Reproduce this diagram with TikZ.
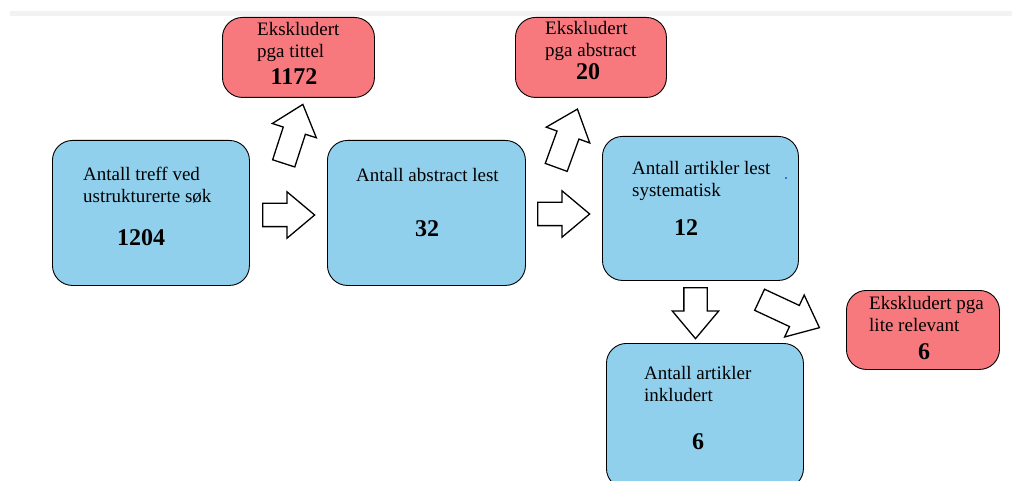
\documentclass[tikz,border=0pt]{standalone}
\usepackage{fontspec}
\setmainfont{Liberation Serif}
\usetikzlibrary{shapes.arrows}

\definecolor{boxblue}{RGB}{145,208,237}
\definecolor{boxred}{RGB}{247,121,126}

\tikzset{
    stepbox/.style={draw=black, line width=0.9pt, rounded corners=20pt,
        anchor=north west, inner sep=0pt},
    bluebox/.style={stepbox, fill=boxblue},
    redbox/.style={stepbox, fill=boxred},
    boxtext/.style={anchor=base west, inner sep=0pt, align=left,
        font=\fontsize{19}{22}\selectfont},
    numtext/.style={inner sep=0pt, font=\fontsize{24}{26}\selectfont\bfseries},
    blockarrow/.style={single arrow, draw=black, fill=white, line width=1.3pt,
        anchor=tail, inner xsep=0pt, inner ysep=11pt,
        single arrow head extend=11.5pt, single arrow head indent=0pt,
        single arrow tip angle=80, minimum height=#1}
}

\begin{document}
\begin{tikzpicture}[x=1pt, y=-1pt]
    \clip (0,0) rectangle (1012,481);
    \useasboundingbox (0,0) rectangle (1012,481);

    % faint page edge at the top
    \fill[black!5] (10,11) rectangle (1012,16);

    % Blue boxes
    \node[bluebox, minimum width=197pt, minimum height=145pt] (treff) at (52,140) {};
    \node[bluebox, minimum width=198pt, minimum height=145pt] (abstract) at (327,140) {};
    \node[bluebox, minimum width=196pt, minimum height=144pt] (lest) at (602,136) {};
    \node[bluebox, minimum width=197pt, minimum height=145pt] (inkl) at (606,343) {};

    % Red boxes
    \node[redbox, minimum width=152pt, minimum height=80pt] (tittel) at (222,17) {};
    \node[redbox, minimum width=151pt, minimum height=80pt] (ekabs) at (515,17) {};
    \node[redbox, minimum width=153pt, minimum height=79pt] (relevant) at (846,290) {};

    % Texts in the blue boxes (base = last line)
    \node[boxtext] (treff-t) at (83,203) {Antall treff ved\\ustrukturerte søk};
    \node[numtext] (treff-n) at (141,238) {1204};
    \node[boxtext] (abstract-t) at (356,182) {Antall abstract lest};
    \node[numtext] (abstract-n) at (427,229) {32};
    \node[boxtext] (lest-t) at (632,197) {Antall artikler lest\\systematisk};
    \node[numtext] (lest-n) at (686,228) {12};
    \node[boxtext] (inkl-t) at (644,401) {Antall artikler\\inkludert};
    \node[numtext] (inkl-n) at (698,442) {6};
    \fill[blue] (786,178) circle (0.8);

    % Texts in the red boxes
    \node[boxtext] (tittel-t) at (257,58) {Ekskludert\\pga tittel};
    \node[numtext] (tittel-n) at (294,77) {1172};
    \node[boxtext] (ekabs-t) at (545,57) {Ekskludert\\pga abstract};
    \node[numtext] (ekabs-n) at (588,72) {20};
    \node[boxtext] (relevant-t) at (869,331) {Ekskludert pga\\lite relevant};
    \node[numtext] (relevant-n) at (924,352) {6};

    % Block arrows
    \node[blockarrow=52pt] (a1) at (262,215) {};
    \node[blockarrow=52pt] (a2) at (537,214) {};
    \node[blockarrow=62pt, rotate=72] (a3) at (283.5,164) {};
    \node[blockarrow=62pt, rotate=70] (a4) at (556,168) {};
    \node[blockarrow=51pt, rotate=-90] (a5) at (695.5,287) {};
    \node[blockarrow=66pt, rotate=-25] (a6) at (759,299.5) {};
\end{tikzpicture}
\end{document}
